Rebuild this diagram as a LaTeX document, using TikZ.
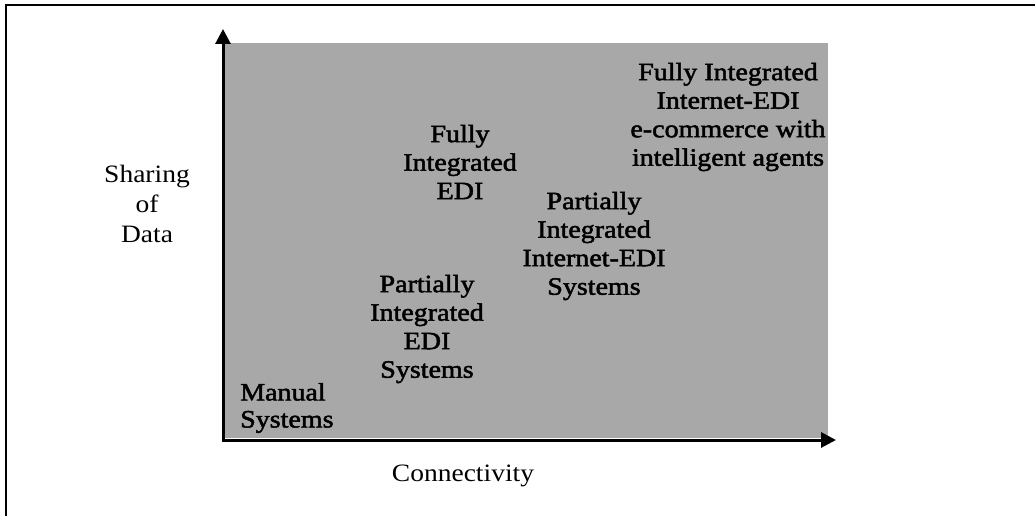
\documentclass[tikz,border=0pt]{standalone}
\usepackage{fontspec}
\setmainfont{Liberation Serif}
\newfontfamily\lfont[FakeStretch=1.1]{Liberation Serif}
\newfontfamily\gfont[FakeStretch=1.12,FakeBold=2]{Liberation Serif}
\usetikzlibrary{arrows.meta}
\definecolor{fieldgray}{gray}{0.66}
\begin{document}
\begin{tikzpicture}[x=1pt,y=-1pt,
  frameline/.style={line width=2pt,black},
  axisline/.style={line width=3pt,black,-{Triangle[length=15pt,width=15pt]}},
  lab/.style={font=\lfont\fontsize{25}{30}\selectfont,align=center,inner sep=0pt},
  glab/.style={font=\gfont\fontsize{25}{28.5}\selectfont,align=center,inner sep=0pt}]
\useasboundingbox (0,0) rectangle (1035,516);
% frame (top and left edges)
\coordinate (ftl) at (6,5);
\coordinate (ftr) at (1035,5);
\coordinate (fbl) at (6,516);
\draw[frameline] (ftr) -- (ftl) -- (fbl);
% shaded field
\fill[fieldgray] (224,43) rectangle (828,438);
% axes
\coordinate (o) at (223,440);
\coordinate (ytip) at (223,29);
\coordinate (xtip) at (836,440);
\draw[axisline] (o) -- (ytip);
\draw[axisline] ([xshift=-1.5pt]o) -- (xtip);
% axis labels
\node[lab] (ylab) at (147,204) {Sharing\\of\\Data};
\node[lab] (xlab) at (463,476) {Connectivity};
% field labels
\node[glab] (fiie) at (728,117) {Fully Integrated\\Internet-EDI\\e-commerce with\\intelligent agents};
\node[glab] (fie) at (460,162) {Fully\\Integrated\\EDI};
\node[glab] (piie) at (594,246) {Partially\\Integrated\\Internet-EDI\\Systems};
\node[glab] (pie) at (427,329) {Partially\\Integrated\\EDI\\Systems};
\node[glab,align=left,anchor=west,font=\gfont\fontsize{25}{27}\selectfont] (man) at (240,408) {Manual\\Systems};
\end{tikzpicture}
\end{document}
